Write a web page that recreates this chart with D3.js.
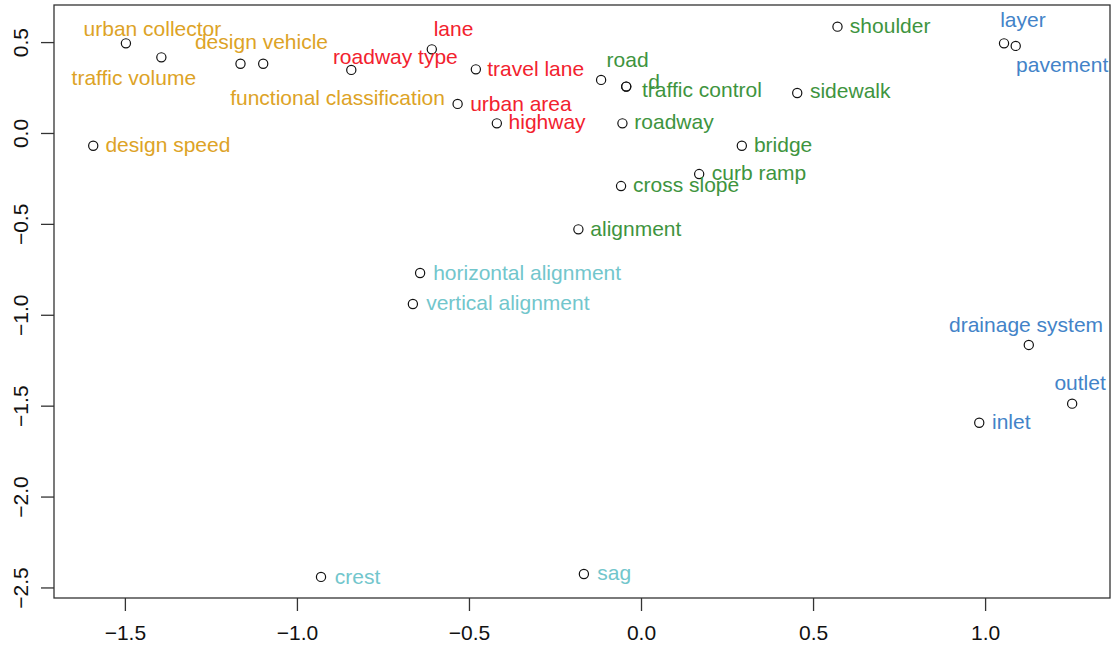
<!DOCTYPE html>
<html>
<head>
<meta charset="utf-8">
<script src="https://cdn.jsdelivr.net/npm/d3@7"></script>
<style>
  body { margin: 0; background: #fff; }
  text { font-family: "Liberation Sans", Arial, sans-serif; }
</style>
</head>
<body>
<div id="scatter"></div>
<script>
// words, in drawing order
var words = ["urban collector", "traffic volume", "design vehicle", "functional classification",
  "design speed", "roadway type", "lane", "travel lane", "urban area", "highway",
  "road", "d", "traffic control", "roadway", "bridge", "curb ramp", "cross slope",
  "alignment", "sidewalk", "shoulder", "layer", "pavement", "drainage system",
  "outlet", "inlet", "horizontal alignment", "vertical alignment", "crest", "sag"];

// cluster of each word (colour group)
var groups = [0, 0, 0, 0, 0, 1, 1, 1, 1, 1, 2, 2, 2, 2, 2, 2, 2, 2, 2, 2, 3, 3, 3, 3, 3, 4, 4, 4, 4];

// point coordinates (dimension 1, dimension 2)
var dim1 = [-1.497, -1.394, -1.098, -1.164, -1.592, -0.842, -0.608, -0.480, -0.533, -0.419,
  -0.116, -0.043, -0.043, -0.054, 0.293, 0.169, -0.058, -0.182, 0.454, 0.571,
  1.055, 1.089, 1.127, 1.253, 0.983, -0.642, -0.663, -0.930, -0.166];
var dim2 = [0.493, 0.416, 0.381, 0.381, -0.070, 0.347, 0.460, 0.350, 0.160, 0.053,
  0.292, 0.255, 0.255, 0.053, -0.070, -0.226, -0.292, -0.530, 0.220, 0.585,
  0.493, 0.479, -1.166, -1.489, -1.594, -0.770, -0.941, -2.442, -2.426];

// where each label ended up (label centre, data units)
var labelX = [-1.420, -1.474, -1.103, -0.882, -1.375, -0.714, -0.545, -0.306, -0.349, -0.273,
  -0.039, 0.038, 0.177, 0.096, 0.413, 0.343, 0.131, -0.015, 0.608, 0.724,
  1.110, 1.224, 1.119, 1.276, 1.076, -0.331, -0.387, -0.824, -0.078];
var labelY = [0.576, 0.304, 0.502, 0.196, -0.061, 0.420, 0.576, 0.356, 0.163, 0.062,
  0.402, 0.282, 0.237, 0.062, -0.061, -0.216, -0.286, -0.524, 0.233, 0.589,
  0.622, 0.374, -1.051, -1.373, -1.588, -0.765, -0.935, -2.437, -2.420];

var xTicks = [-1.5, -1.0, -0.5, 0.0, 0.5, 1.0];
var yTicks = [-2.5, -2.0, -1.5, -1.0, -0.5, 0.0, 0.5];

var groupColors = ["#DDA326", "#F2222E", "#3E943E", "#4383C8", "#72C6CC"];

var svgWidth = 1113;
var svgHeight = 649;

var margin = {
  top: 5,
  right: 3,
  bottom: 51,
  left: 54
};

var width = svgWidth - margin.left - margin.right;
var height = svgHeight - margin.top - margin.bottom;

var svg = d3.select("#scatter")
  .append("svg")
  .attr("width", svgWidth)
  .attr("height", svgHeight);

var chartGroup = svg.append("g")
  .attr("transform", `translate(${margin.left}, ${margin.top})`);

// scales
var xLinearScale = d3.scaleLinear()
  .domain([-1.706, 1.363])
  .range([0, width]);

var yLinearScale = d3.scaleLinear()
  .domain([-2.558, 0.704])
  .range([height, 0]);

var fmt = d3.format(".1f");

// x axis, R style: ticks only, line from first to last tick
var xAxis = chartGroup.append("g")
  .attr("transform", `translate(0, ${height})`)
  .call(d3.axisBottom(xLinearScale).tickValues(xTicks).tickFormat(fmt).tickSize(13).tickPadding(14));

xAxis.select(".domain").remove();
xAxis.selectAll("line").attr("stroke", "#333").attr("stroke-width", 1.3);
xAxis.selectAll("text")
  .attr("font-size", "21px")
  .attr("fill", "#111");

// y axis with rotated labels
var yAxis = chartGroup.append("g")
  .call(d3.axisLeft(yLinearScale).tickValues(yTicks).tickFormat(fmt).tickSize(13));

yAxis.select(".domain").remove();
yAxis.selectAll("line").attr("stroke", "#333").attr("stroke-width", 1.3);
yAxis.selectAll("text")
  .attr("font-size", "21px")
  .attr("fill", "#111")
  .attr("x", 0)
  .attr("y", 0)
  .attr("dy", null)
  .attr("text-anchor", "middle")
  .attr("dominant-baseline", "central")
  .attr("transform", "translate(-34, 0) rotate(-90)");

// plot box
chartGroup.append("rect")
  .attr("x", 0)
  .attr("y", 0)
  .attr("width", width)
  .attr("height", height)
  .attr("fill", "none")
  .attr("stroke", "#333")
  .attr("stroke-width", 1.3);

var idx = d3.range(words.length);

// points
chartGroup.selectAll("circle")
  .data(idx)
  .enter()
  .append("circle")
  .attr("cx", i => xLinearScale(dim1[i]))
  .attr("cy", i => yLinearScale(dim2[i]))
  .attr("r", 4.6)
  .attr("fill", "none")
  .attr("stroke", "#111")
  .attr("stroke-width", 1.2);

// word labels
chartGroup.selectAll(".word")
  .data(idx)
  .enter()
  .append("text")
  .attr("class", "word")
  .attr("x", i => xLinearScale(labelX[i]))
  .attr("y", i => yLinearScale(labelY[i]))
  .attr("text-anchor", "middle")
  .attr("dominant-baseline", "central")
  .attr("font-size", "21px")
  .attr("fill", i => groupColors[groups[i]])
  .text(i => words[i]);
</script>
</body>
</html>
